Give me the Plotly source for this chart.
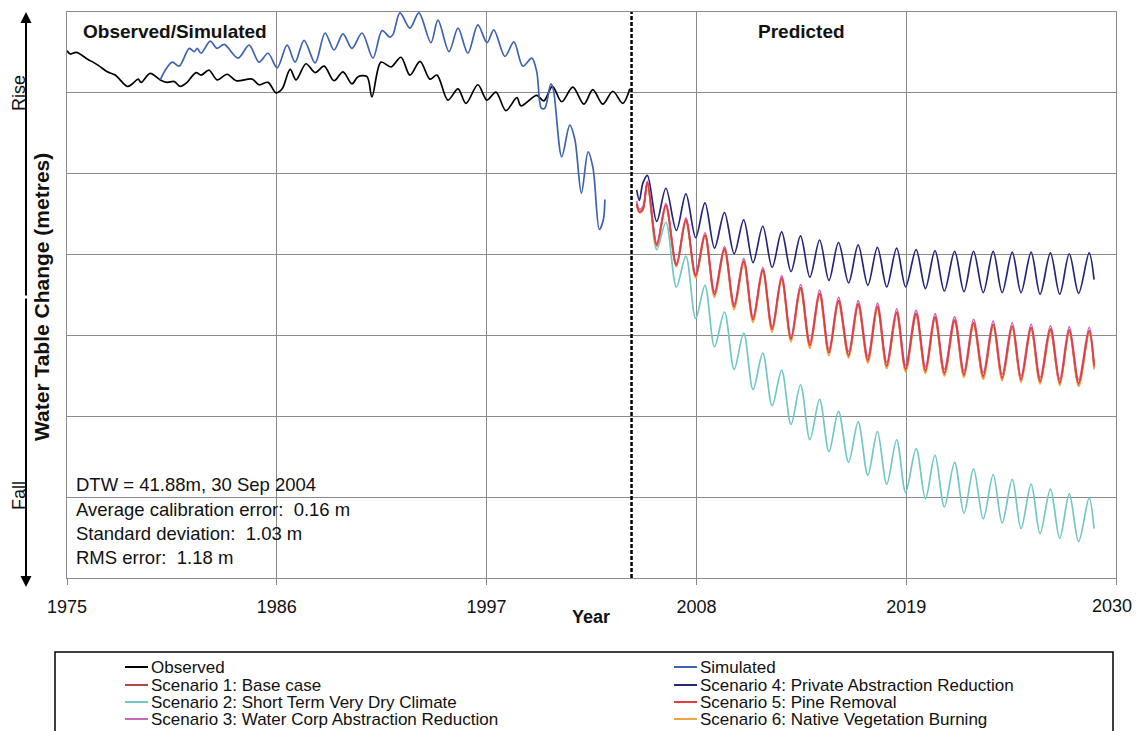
import plotly.graph_objects as go

# ---------------- data ----------------
x_ticks = [1975, 1986, 1997, 2008, 2019, 2030]
x_tick_text = ["1975", "1986", "1997", "2008", "2019", ""]
last_tick_label = "2030"
split_year = 2004.6

obs_year = [1975.00, 1975.17, 1975.49, 1976.06, 1976.64, 1977.11, 1977.53, 1978.16, 1978.42, 1978.73,
            1978.89, 1979.36, 1979.89, 1980.25, 1980.62, 1980.93, 1981.25, 1981.77, 1982.03, 1982.45,
            1982.87, 1983.40, 1983.87, 1984.71, 1985.07, 1985.54, 1985.96, 1986.28, 1986.70, 1987.01,
            1987.53, 1988.01, 1988.48, 1989.00, 1989.47, 1989.94, 1990.26, 1990.73, 1990.99, 1991.46,
            1991.99, 1992.51, 1992.98, 1993.51, 1994.03, 1994.40, 1994.97, 1995.50, 1995.92, 1996.54,
            1997.02, 1997.49, 1998.01, 1998.59, 1998.80, 1999.63, 2000.00, 2000.45, 2000.94, 2001.52,
            2002.10, 2002.57, 2003.09, 2003.62, 2004.14, 2004.51]
obs_val = [6.52, 6.48, 6.50, 6.42, 6.34, 6.26, 6.22, 6.08, 6.11, 6.17,
           6.13, 6.24, 6.16, 6.13, 6.14, 6.08, 6.12, 6.25, 6.22, 6.28,
           6.16, 6.23, 6.15, 6.17, 6.10, 6.13, 6.00, 6.05, 6.29, 6.16,
           6.36, 6.25, 6.33, 6.15, 6.26, 6.11, 6.20, 6.20, 5.95, 6.38,
           6.32, 6.44, 6.22, 6.39, 6.17, 6.22, 5.91, 6.05, 5.87, 6.10,
           5.91, 6.01, 5.78, 5.94, 5.84, 5.97, 5.90, 6.08, 5.89, 6.07,
           5.86, 6.04, 5.86, 6.02, 5.87, 6.05]

sim_year = [1979.89, 1980.15, 1980.52, 1980.88, 1981.41, 1981.67, 1981.83, 1982.03, 1982.51, 1982.87,
            1983.24, 1983.97, 1984.55, 1985.07, 1985.54, 1986.02, 1986.54, 1986.96, 1987.43, 1988.01,
            1988.53, 1989.00, 1989.47, 1989.94, 1990.47, 1991.04, 1991.52, 1991.93, 1992.09, 1992.46,
            1992.98, 1993.45, 1994.08, 1994.45, 1995.03, 1995.50, 1996.02, 1996.54, 1997.02, 1997.38,
            1997.96, 1998.43, 1998.90, 1999.37, 1999.63, 1999.87, 2000.05, 2000.37, 2000.50, 2000.94,
            2001.36, 2001.63, 2001.97, 2002.32, 2002.58, 2002.91, 2003.12, 2003.20]
sim_val = [6.16, 6.28, 6.38, 6.33, 6.55, 6.51, 6.55, 6.49, 6.64, 6.55,
           6.60, 6.43, 6.59, 6.38, 6.49, 6.31, 6.59, 6.38, 6.65, 6.37,
           6.74, 6.53, 6.73, 6.55, 6.74, 6.43, 6.77, 6.69, 6.72, 6.99,
           6.80, 6.99, 6.62, 6.90, 6.51, 6.80, 6.49, 6.84, 6.62, 6.78,
           6.45, 6.63, 6.33, 6.43, 6.26, 5.81, 5.81, 6.11, 6.04, 5.21,
           5.60, 5.42, 4.76, 5.27, 5.07, 4.31, 4.43, 4.68]

pred_year = [2004.87, 2005.01, 2005.19, 2005.43, 2005.92, 2006.40, 2006.95, 2007.45, 2007.96, 2008.45,
             2008.95, 2009.47, 2009.98, 2010.48, 2010.97, 2011.48, 2011.97, 2012.47, 2012.96, 2013.46,
             2013.95, 2014.46, 2014.95, 2015.45, 2015.98, 2016.48, 2016.99, 2017.49, 2017.98, 2018.50,
             2018.97, 2019.52, 2020.01, 2020.51, 2021.00, 2021.54, 2022.03, 2022.53, 2023.04, 2023.56,
             2024.03, 2024.56, 2025.02, 2025.55, 2026.02, 2026.56, 2027.05, 2027.55, 2028.04, 2028.59,
             2028.85]
s1_val = [4.62, 4.52, 4.55, 4.88, 4.11, 4.60, 3.86, 4.42, 3.73, 4.23,
          3.50, 4.06, 3.35, 3.91, 3.19, 3.80, 3.07, 3.70, 2.95, 3.58,
          2.87, 3.51, 2.78, 3.42, 2.74, 3.38, 2.68, 3.34, 2.61, 3.27,
          2.57, 3.25, 2.55, 3.21, 2.52, 3.17, 2.50, 3.14, 2.48, 3.12,
          2.46, 3.10, 2.44, 3.08, 2.42, 3.06, 2.40, 3.05, 2.39, 3.04,
          2.60]
s2_val = [4.63, 4.53, 4.56, 4.88, 4.06, 4.40, 3.60, 3.98, 3.21, 3.62,
          2.86, 3.29, 2.58, 3.03, 2.33, 2.78, 2.13, 2.57, 1.90, 2.39,
          1.71, 2.21, 1.56, 2.06, 1.43, 1.93, 1.27, 1.81, 1.16, 1.71,
          1.06, 1.60, 0.98, 1.52, 0.88, 1.43, 0.80, 1.35, 0.73, 1.28,
          0.68, 1.22, 0.61, 1.16, 0.55, 1.10, 0.49, 1.04, 0.45, 0.99,
          0.61]
s3_val = [4.66, 4.56, 4.59, 4.91, 4.14, 4.63, 3.89, 4.45, 3.76, 4.27,
          3.54, 4.10, 3.39, 3.95, 3.23, 3.84, 3.11, 3.74, 2.99, 3.63,
          2.92, 3.56, 2.83, 3.47, 2.80, 3.43, 2.74, 3.40, 2.67, 3.33,
          2.63, 3.31, 2.61, 3.27, 2.58, 3.23, 2.56, 3.20, 2.54, 3.18,
          2.52, 3.16, 2.50, 3.14, 2.48, 3.12, 2.46, 3.11, 2.45, 3.10,
          2.66]
s4_val = [4.80, 4.67, 4.88, 4.98, 4.41, 4.82, 4.30, 4.75, 4.21, 4.64,
          4.08, 4.52, 4.01, 4.43, 3.90, 4.35, 3.84, 4.28, 3.79, 4.23,
          3.72, 4.18, 3.68, 4.15, 3.65, 4.12, 3.62, 4.09, 3.60, 4.08,
          3.60, 4.06, 3.58, 4.05, 3.55, 4.04, 3.54, 4.04, 3.53, 4.04,
          3.53, 4.03, 3.53, 4.03, 3.51, 4.02, 3.51, 4.01, 3.52, 4.02,
          3.69]
s5_val = [4.63, 4.53, 4.56, 4.89, 4.12, 4.61, 3.87, 4.43, 3.74, 4.24,
          3.51, 4.07, 3.36, 3.92, 3.20, 3.81, 3.08, 3.71, 2.96, 3.59,
          2.88, 3.52, 2.79, 3.43, 2.76, 3.39, 2.70, 3.36, 2.63, 3.29,
          2.59, 3.27, 2.57, 3.23, 2.54, 3.19, 2.52, 3.16, 2.50, 3.14,
          2.48, 3.12, 2.46, 3.10, 2.44, 3.08, 2.42, 3.07, 2.41, 3.06,
          2.62]
s6_val = [4.62, 4.52, 4.55, 4.88, 4.10, 4.59, 3.85, 4.41, 3.71, 4.22,
          3.47, 4.04, 3.32, 3.89, 3.16, 3.78, 3.04, 3.68, 2.92, 3.56,
          2.84, 3.49, 2.75, 3.40, 2.72, 3.36, 2.66, 3.33, 2.59, 3.26,
          2.55, 3.24, 2.53, 3.20, 2.50, 3.16, 2.48, 3.13, 2.46, 3.11,
          2.44, 3.09, 2.42, 3.07, 2.40, 3.05, 2.38, 3.04, 2.37, 3.03,
          2.58]

stats_lines = ["DTW = 41.88m, 30 Sep 2004",
               "Average calibration error:  0.16 m",
               "Standard deviation:  1.03 m",
               "RMS error:  1.18 m"]

names = {
    "obs": "Observed", "sim": "Simulated",
    "s1": "Scenario 1: Base case", "s2": "Scenario 2: Short Term Very Dry Climate",
    "s3": "Scenario 3: Water Corp Abstraction Reduction", "s4": "Scenario 4: Private Abstraction Reduction",
    "s5": "Scenario 5: Pine Removal", "s6": "Scenario 6: Native Vegetation Burning",
}
colors = {
    "obs": "#000000", "sim": "#3E63B0", "s1": "#B24A44", "s2": "#72C7C6",
    "s3": "#C865C0", "s4": "#25257A", "s5": "#E23D3D", "s6": "#F2A33F",
}

# ---------------- figure ----------------
FONT = "Liberation Sans, Arial, sans-serif"

fig = go.Figure()
series = [
    ("obs", obs_year, obs_val), ("sim", sim_year, sim_val),
    ("s2", pred_year, s2_val), ("s4", pred_year, s4_val),
    ("s1", pred_year, s1_val), ("s6", pred_year, s6_val),
    ("s3", pred_year, s3_val), ("s5", pred_year, s5_val),
]
for key, xs, ys in series:
    fig.add_trace(go.Scatter(
        x=xs, y=ys, mode="lines", name=names[key], showlegend=False,
        line=dict(color=colors[key], width=1.7, shape="spline", smoothing=0.9),
    ))

# page margin removed by the post script; usable page width is 1133 px
W, H = 1133, 731
L, R, T, B = 67, 17, 12, 153
pw, ph = W - L - R, H - T - B


def px(xp):  # page x -> paper
    return (xp - L) / pw


def py(yp):  # page y -> paper
    return (H - B - yp) / ph


shapes = []
shapes.append(dict(type="line", xref="x", yref="paper", x0=split_year, x1=split_year, y0=0, y1=1,
                   line=dict(color="black", width=2.5, dash="4px,2px"), layer="above"))
shapes.append(dict(type="rect", xref="paper", yref="paper", x0=px(68), x1=px(357), y0=py(577), y1=py(472),
                   fillcolor="white", line=dict(width=0), layer="between"))
shapes.append(dict(type="rect", xref="paper", yref="paper", x0=px(55), x1=px(1113), y0=py(740), y1=py(652),
                   line=dict(color="black", width=1.5), fillcolor="rgba(0,0,0,0)"))


def note(text, xp, yp, size, xanchor="center", angle=0):
    return dict(text=text, x=px(xp), y=py(yp), xref="paper", yref="paper", xanchor=xanchor,
                yanchor="middle", showarrow=False, textangle=angle,
                font=dict(size=size, color="#111", family=FONT))


annotations = []
annotations.append(note("<b>Observed/Simulated</b>", 175, 31, 19))
annotations.append(note("<b>Predicted</b>", 801, 31, 19))
for i, line in enumerate(stats_lines):
    annotations.append(note(line, 74, 485 + 24 * i, 18.5, xanchor="left"))
annotations.append(note("<b>Year</b>", 591, 617, 18))
annotations.append(note("Rise", 19, 93, 18, angle=-90))
annotations.append(note("Fall", 19, 496, 18, angle=-90))
annotations.append(note("<b>Water Table Change (metres)</b>", 41, 297, 21, angle=-90))
# last x tick label, kept inside the usable page width
annotations.append(note(last_tick_label, 1112, 606, 18))
# y-axis double arrow
annotations.append(dict(text="", x=px(26), y=py(12), xref="paper", yref="paper", ax=0, ay=285,
                        showarrow=True, arrowhead=2, arrowsize=1.1, arrowwidth=2, arrowcolor="black"))
annotations.append(dict(text="", x=px(26), y=py(587), xref="paper", yref="paper", ax=0, ay=-290,
                        showarrow=True, arrowhead=2, arrowsize=1.1, arrowwidth=2, arrowcolor="black"))

# manual legend (two columns)
legend_layout = [("obs", 0, 0), ("s1", 0, 1), ("s2", 0, 2), ("s3", 0, 3),
                 ("sim", 1, 0), ("s4", 1, 1), ("s5", 1, 2), ("s6", 1, 3)]
col_x = [125, 674]
row_y = [667, 685, 702, 719]
for key, c, r in legend_layout:
    x0 = col_x[c]
    yy = row_y[r]
    shapes.append(dict(type="line", xref="paper", yref="paper", x0=px(x0), x1=px(x0 + 23), y0=py(yy), y1=py(yy),
                       line=dict(color=colors[key], width=2)))
    annotations.append(note(names[key], x0 + 24, yy, 17, xanchor="left"))

fig.update_layout(
    width=W, height=H, autosize=False,
    margin=dict(l=L, r=R, t=T, b=B, pad=0),
    paper_bgcolor="white", plot_bgcolor="white",
    showlegend=False,
    font=dict(family=FONT, size=18, color="#111"),
    shapes=shapes, annotations=annotations,
    xaxis=dict(range=[x_ticks[0], x_ticks[-1]], tickmode="array", tickvals=x_ticks,
               ticktext=x_tick_text, showgrid=True, gridcolor="#8a8a8a", gridwidth=1,
               ticks="outside", ticklen=6, tickcolor="#8a8a8a", ticklabelstandoff=6,
               showline=True, linecolor="#8a8a8a", linewidth=1, mirror=True, zeroline=False,
               tickfont=dict(size=18, color="#111", family=FONT)),
    yaxis=dict(range=[0, 7], dtick=1, tick0=0, showgrid=True, gridcolor="#8a8a8a", gridwidth=1,
               showticklabels=False, ticks="", showline=True, linecolor="#8a8a8a", linewidth=1,
               mirror=True, zeroline=False),
)

fig.write_html(
    "out.html",
    config={"responsive": False, "displayModeBar": False},
    post_script=("document.documentElement.style.overflow='hidden';"
                 "document.body.style.overflow='hidden';"
                 "document.body.style.margin='0';"),
)
